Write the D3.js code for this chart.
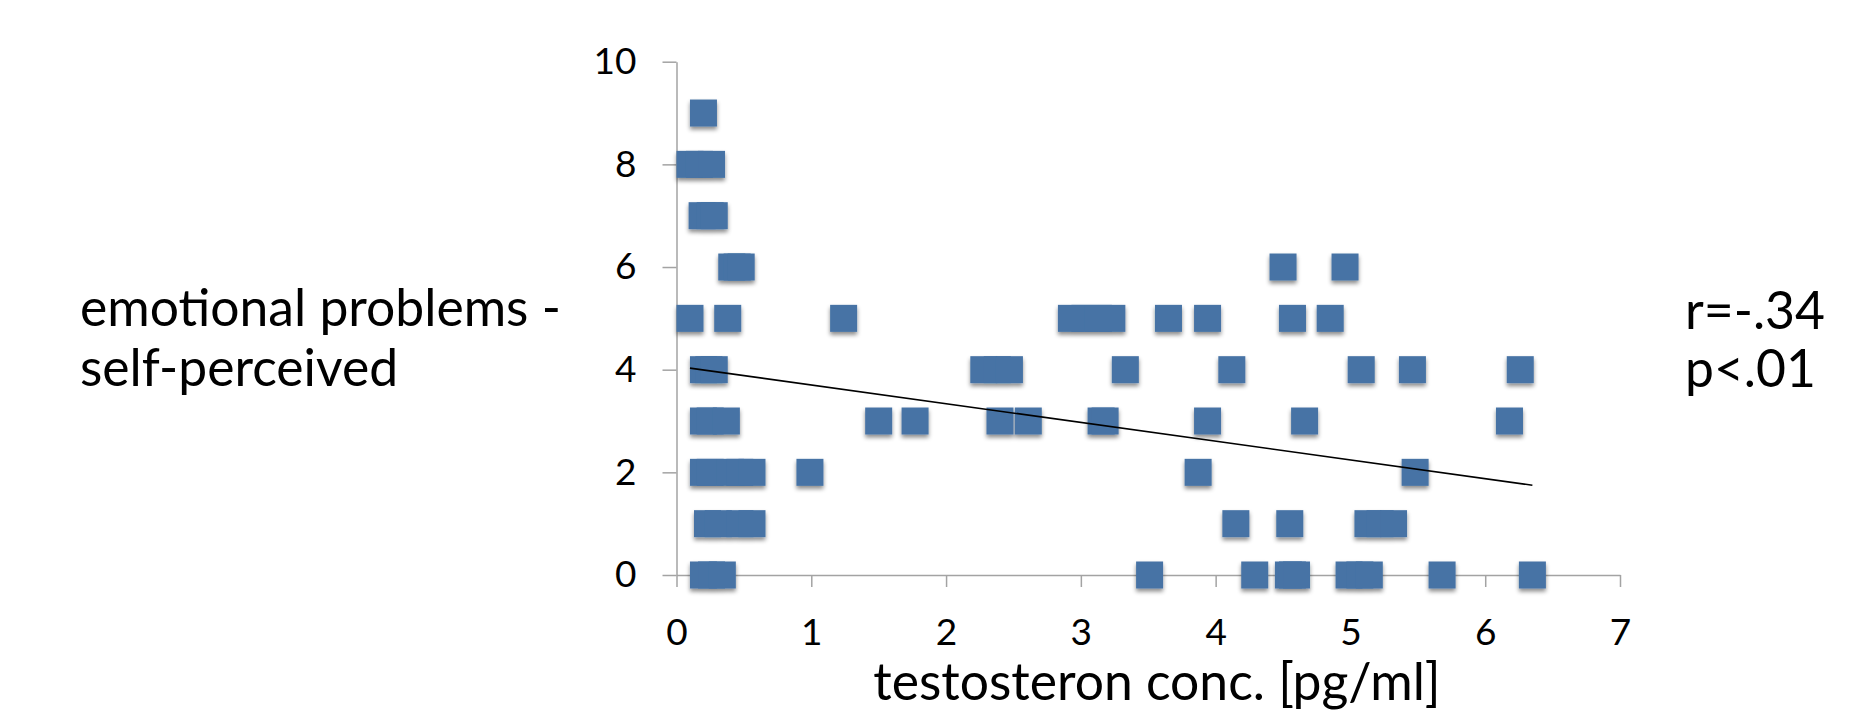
<!DOCTYPE html>
<html>
<head>
<meta charset="utf-8">
<script src="https://cdn.jsdelivr.net/npm/d3@7/dist/d3.min.js"></script>
<style>
  html, body { margin: 0; padding: 0; background: #fff; }
  svg { display: block; }
  text { font-family: Lato, "Open Sans", "Liberation Sans", sans-serif; fill: #000; }
</style>
</head>
<body>
<script>
// Testosterone concentration vs. self-perceived emotional problems score
const emotionScore = [
  9,
  8, 8, 8,
  7, 7, 7,
  6, 6, 6, 6, 6,
  5, 5, 5, 5, 5, 5, 5, 5, 5, 5, 5,
  4, 4, 4, 4, 4, 4, 4, 4, 4, 4, 4,
  3, 3, 3, 3, 3, 3, 3, 3, 3, 3, 3, 3,
  2, 2, 2, 2, 2, 2, 2, 2,
  1, 1, 1, 1, 1, 1, 1, 1, 1,
  0, 0, 0, 0, 0, 0, 0, 0, 0, 0, 0, 0, 0
];
const testosterone = [
  0.20,
  0.10, 0.17, 0.26,
  0.19, 0.25, 0.28,
  0.41, 0.45, 0.48, 4.50, 4.96,
  0.10, 0.38, 1.24, 2.93, 3.03, 3.13, 3.23, 3.65, 3.94, 4.57, 4.85,
  0.20, 0.24, 0.28, 2.28, 2.38, 2.47, 3.33, 4.12, 5.08, 5.46, 6.26,
  0.20, 0.25, 0.37, 1.50, 1.77, 2.40, 2.61, 3.15, 3.18, 3.94, 4.66, 6.18,
  0.20, 0.25, 0.40, 0.47, 0.56, 0.99, 3.87, 5.48,
  0.23, 0.31, 0.47, 0.56, 4.15, 4.55, 5.13, 5.22, 5.32,
  0.20, 0.26, 0.34, 3.51, 4.29, 4.54, 4.57, 4.60, 4.99, 5.07, 5.14, 5.68, 6.35
];

// linear trend line (intercept, slope)
const trendIntercept = 4.067;
const trendSlope = -0.365;

const xTicks = [0, 1, 2, 3, 4, 5, 6, 7];
const yTicks = [0, 2, 4, 6, 8, 10];

const yTitleLines = ["emotional problems -", "self-perceived"];
const xTitle = "testosteron conc. [pg/ml]";
const statLines = ["r=-.34", "p<.01"];

const W = 1853, H = 711;
const points = testosterone.map((t, i) => ({ x: t, y: emotionScore[i] }));

const svg = d3.select("body").append("svg")
  .attr("width", W).attr("height", H);

svg.append("rect").attr("width", W).attr("height", H).attr("fill", "#fff");

const defs = svg.append("defs");
const shadow = defs.append("filter").attr("id", "markShadow")
  .attr("x", "-30%").attr("y", "-30%").attr("width", "160%").attr("height", "170%");
shadow.append("feDropShadow")
  .attr("dx", 0).attr("dy", 3).attr("stdDeviation", 2)
  .attr("flood-color", "#000").attr("flood-opacity", 0.45);

const x = d3.scaleLinear().domain([0, 7]).range([676.5, 1620]);
const y = d3.scaleLinear().domain([0, 10]).range([575, 61.7]);

const axisColor = "#a3a3a3";
const tickFont = 37;

const xAxis = svg.append("g")
  .attr("transform", `translate(0,${y(0)})`)
  .call(d3.axisBottom(x).tickValues(xTicks).tickFormat(d3.format("d"))
    .tickSize(12).tickSizeOuter(0).tickPadding(32));

const yAxis = svg.append("g")
  .attr("transform", `translate(${x(0)},0)`)
  .call(d3.axisLeft(y).tickValues(yTicks).tickFormat(d3.format("d"))
    .tickSize(14).tickSizeOuter(0).tickPadding(26));

[xAxis, yAxis].forEach(g => {
  g.select(".domain").attr("stroke", axisColor).attr("stroke-width", 1.5);
  g.selectAll(".tick line").attr("stroke", axisColor).attr("stroke-width", 1.5);
  g.selectAll(".tick text").attr("fill", "#000")
    .style("font-size", tickFont + "px");
});

// markers
const side = 27;
svg.append("g").attr("filter", "url(#markShadow)")
  .selectAll("rect.pt").data(points).join("rect")
  .attr("class", "pt")
  .attr("x", d => x(d.x) - side / 2)
  .attr("y", d => y(d.y) - side / 2)
  .attr("width", side).attr("height", side)
  .attr("fill", "#4673a5");

// trend line across the data range
const xExt = d3.extent(testosterone);
svg.append("line")
  .attr("x1", x(xExt[0])).attr("y1", y(trendIntercept + trendSlope * xExt[0]))
  .attr("x2", x(xExt[1])).attr("y2", y(trendIntercept + trendSlope * xExt[1]))
  .attr("stroke", "#000").attr("stroke-width", 1.6);

// size a text so that it spans a given width
function fitSize(str, width) {
  const t = svg.append("text").style("font-size", "100px").text(str);
  const w = t.node().getComputedTextLength();
  t.remove();
  return 100 * width / w;
}
const bigFont = fitSize(yTitleLines[0], 481);

svg.append("g").selectAll("text").data(yTitleLines).join("text")
  .attr("x", 80).attr("y", (d, i) => 326 + i * 60)
  .style("font-size", bigFont + "px")
  .text(d => d);

svg.append("g").selectAll("text").data(statLines).join("text")
  .attr("x", 1685).attr("y", (d, i) => 329 + i * 58)
  .style("font-size", bigFont + "px")
  .text(d => d);

svg.append("text")
  .attr("x", 1157).attr("y", 700)
  .attr("text-anchor", "middle")
  .style("font-size", bigFont + "px")
  .text(xTitle);
</script>
</body>
</html>
